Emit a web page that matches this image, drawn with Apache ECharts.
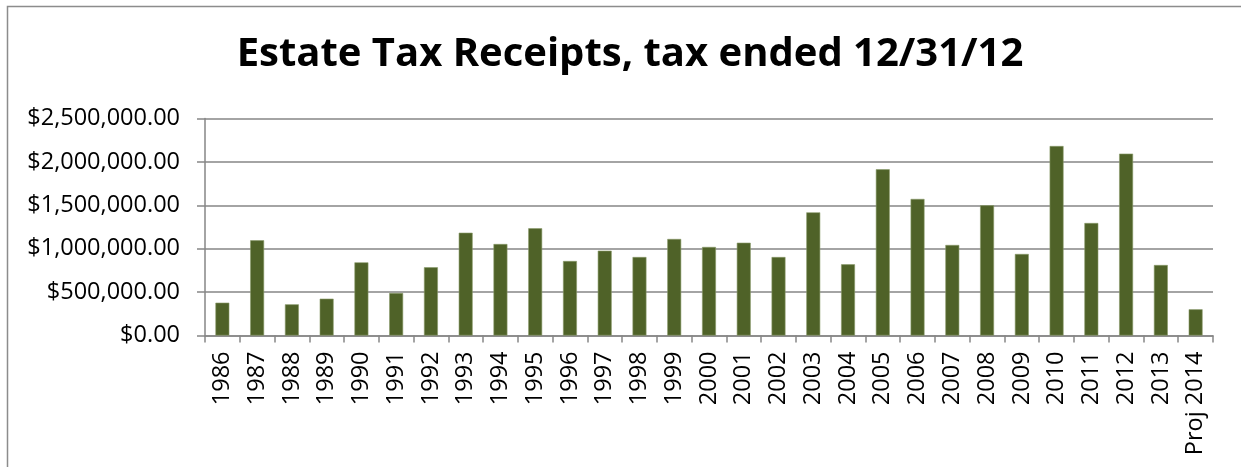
<!DOCTYPE html>
<html>
<head>
<meta charset="utf-8">
<script src="https://cdn.jsdelivr.net/npm/echarts@6/dist/echarts.min.js"></script>
<style>
  html, body { margin: 0; padding: 0; background: #fff; }
  #chart { width: 1241px; height: 467px; }
</style>
</head>
<body>
<div id="chart"></div>
<script>
// Estate tax receipts by year
const years = ['1986', '1987', '1988', '1989', '1990', '1991', '1992', '1993', '1994', '1995',
  '1996', '1997', '1998', '1999', '2000', '2001', '2002', '2003', '2004', '2005',
  '2006', '2007', '2008', '2009', '2010', '2011', '2012', '2013', 'Proj 2014'];
const receipts = [378000, 1097000, 359000, 424000, 843000, 490000, 786000, 1184000, 1054000, 1235000,
  858000, 977000, 904000, 1112000, 1020000, 1069000, 904000, 1419000, 820000, 1915000,
  1573000, 1043000, 1500000, 939000, 2183000, 1296000, 2095000, 812000, 302000];
const yTicks = [0, 500000, 1000000, 1500000, 2000000, 2500000];

const chart = echarts.init(document.getElementById('chart'), null, { renderer: 'canvas' });

const money = v => '$' + v.toLocaleString('en-US', { minimumFractionDigits: 2, maximumFractionDigits: 2 });
const axisGray = '#868686';

chart.setOption({
  animation: false,
  backgroundColor: '#ffffff',
  title: {
    text: 'Estate Tax Receipts, tax ended 12/31/12',
    left: 625,
    top: 30,
    textAlign: 'center',
    textStyle: { fontFamily: 'Open Sans', fontWeight: 'bold', fontSize: 40, color: '#000' }
  },
  graphic: [{
    type: 'rect',
    shape: { x: 7.5, y: 6.5, width: 1400, height: 600 },
    style: { fill: 'none', stroke: '#8c8c8c', lineWidth: 1.5 },
    silent: true
  }],
  grid: { left: 205, right: 28, top: 118.5, bottom: 131.5, containLabel: false },
  xAxis: {
    type: 'category',
    data: years,
    axisLine: { lineStyle: { color: axisGray, width: 1.5 } },
    axisTick: { show: true, length: 7, lineStyle: { color: axisGray, width: 1.5 } },
    axisLabel: { rotate: 90, margin: 16, interval: 0, color: '#000', fontFamily: 'Open Sans', fontSize: 23.5 }
  },
  yAxis: {
    type: 'value',
    min: yTicks[0],
    max: yTicks[yTicks.length - 1],
    interval: yTicks[1] - yTicks[0],
    axisLine: { show: true, lineStyle: { color: axisGray, width: 1.5 } },
    axisTick: { show: true, length: 8, lineStyle: { color: axisGray, width: 1.5 } },
    splitLine: { lineStyle: { color: axisGray, width: 1.5 } },
    axisLabel: { margin: 25, color: '#000', fontFamily: 'Open Sans', fontSize: 23.5, formatter: money }
  },
  series: [{
    type: 'bar',
    data: receipts,
    barWidth: '40%',
    itemStyle: { color: '#4F6228', borderColor: '#8a9a6a', borderWidth: 0.6 }
  }]
});
</script>
</body>
</html>
